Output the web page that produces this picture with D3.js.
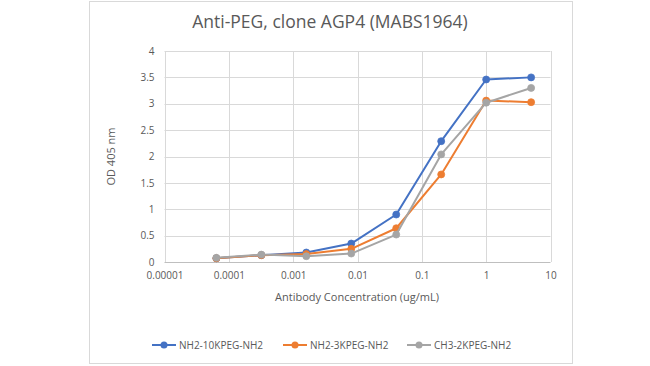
<!DOCTYPE html>
<html><head><meta charset="utf-8">
<script src="https://cdn.jsdelivr.net/npm/d3@7"></script>
<style>body{margin:0;background:#fff}svg{display:block}</style>
</head><body>
<svg id="c" width="650" height="366"></svg>
<script>
const concentrations = [0.000064, 0.00032, 0.0016, 0.008, 0.04, 0.2, 1, 5];
const seriesNames = ["NH2-10KPEG-NH2", "NH2-3KPEG-NH2", "CH3-2KPEG-NH2"];
const nh2_10k = [0.07, 0.13, 0.18, 0.35, 0.90, 2.29, 3.46, 3.50];
const nh2_3k  = [0.07, 0.13, 0.15, 0.25, 0.64, 1.66, 3.06, 3.03];
const ch3_2k  = [0.08, 0.14, 0.11, 0.16, 0.52, 2.04, 3.02, 3.30];
const xTicks = [0.00001, 0.0001, 0.001, 0.01, 0.1, 1, 10];
const xTickLabels = ["0.00001", "0.0001", "0.001", "0.01", "0.1", "1", "10"];
const yTicks = [0, 0.5, 1, 1.5, 2, 2.5, 3, 3.5, 4];
const colors = ["#4472C4", "#ED7D31", "#A5A5A5"];
const title = "Anti-PEG, clone AGP4 (MABS1964)";
const xTitle = "Antibody Concentration (ug/mL)";
const yTitle = "OD 405 nm";

const values = [nh2_10k, nh2_3k, ch3_2k];
const font = "'Open Sans', sans-serif";
const txt = "#595959";
const svg = d3.select("#c");

// chart border
svg.append("rect").attr("x", 89.5).attr("y", 1.5).attr("width", 483).attr("height", 362)
  .attr("fill", "#fff").attr("stroke", "#D9D9D9").attr("stroke-width", 1);

const x = d3.scaleLog().domain([0.00001, 10]).range([164.5, 550.5]);
const y = d3.scaleLinear().domain([0, 4]).range([262, 51]);

// gridlines
svg.append("g").selectAll("line").data(yTicks.filter(d => d > 0)).join("line")
  .attr("x1", x.range()[0]).attr("x2", x.range()[1])
  .attr("y1", d => Math.round(y(d)) + 0.5).attr("y2", d => Math.round(y(d)) + 0.5)
  .attr("stroke", "#D9D9D9");
svg.append("g").selectAll("line").data(xTicks).join("line")
  .attr("x1", d => Math.round(x(d)) + 0.5).attr("x2", d => Math.round(x(d)) + 0.5)
  .attr("y1", y(4)).attr("y2", y(0))
  .attr("stroke", "#D9D9D9");
// bottom axis line
svg.append("line").attr("x1", x.range()[0]).attr("x2", x.range()[1])
  .attr("y1", Math.round(y(0)) + 0.5).attr("y2", Math.round(y(0)) + 0.5)
  .attr("stroke", "#BFBFBF");

// axes via d3 axis generators (tick lines hidden)
const xAxis = d3.axisBottom(x).tickValues(xTicks).tickFormat((d, i) => xTickLabels[i]).tickSize(0).tickPadding(10);
const gx = svg.append("g").attr("transform", `translate(0,${y(0)})`).call(xAxis);
gx.select(".domain").remove();
gx.selectAll("text").attr("fill", txt).style("font-family", font).style("font-size", "10px");

const yAxis = d3.axisLeft(y).tickValues(yTicks).tickFormat(d3.format("")).tickSize(0).tickPadding(10);
const gy = svg.append("g").attr("transform", `translate(${x.range()[0]},0)`).call(yAxis);
gy.select(".domain").remove();
gy.selectAll("text").attr("fill", txt).style("font-family", font).style("font-size", "10px");

// lines
const line = d3.line().x((d, i) => x(concentrations[i])).y(d => y(d));
values.forEach((vals, s) => {
  svg.append("path").datum(vals).attr("d", line).attr("fill", "none")
    .attr("stroke", colors[s]).attr("stroke-width", 2).attr("stroke-linejoin", "round");
  svg.append("g").selectAll("circle").data(vals).join("circle")
    .attr("cx", (d, i) => x(concentrations[i])).attr("cy", d => y(d)).attr("r", 3.5)
    .attr("fill", colors[s]).attr("stroke", colors[s]).attr("stroke-width", 0.75);
});

// titles
svg.append("text").attr("x", 330).attr("y", 28).attr("text-anchor", "middle")
  .attr("fill", txt).style("font-family", font).style("font-size", "17.5px").text(title);
svg.append("text").attr("x", 357).attr("y", 301).attr("text-anchor", "middle")
  .attr("fill", txt).style("font-family", font).style("font-size", "11px").text(xTitle);
svg.append("text").attr("transform", `translate(115,${(y(0) + y(4)) / 2}) rotate(-90)`)
  .attr("text-anchor", "middle").attr("fill", txt).style("font-family", font)
  .style("font-size", "11px").text(yTitle);

// legend
const legX = [152, 283, 407];
const lg = svg.append("g").selectAll("g").data(seriesNames).join("g")
  .attr("transform", (d, i) => `translate(${legX[i]},345)`);
lg.append("line").attr("x1", 0).attr("x2", 24).attr("stroke", (d, i) => colors[i]).attr("stroke-width", 2);
lg.append("circle").attr("cx", 12).attr("r", 3.5).attr("fill", (d, i) => colors[i]);
lg.append("text").attr("x", 27).attr("y", 3.5).attr("fill", txt).style("font-family", font)
  .style("font-size", "10px").text(d => d);
</script>
</body></html>
